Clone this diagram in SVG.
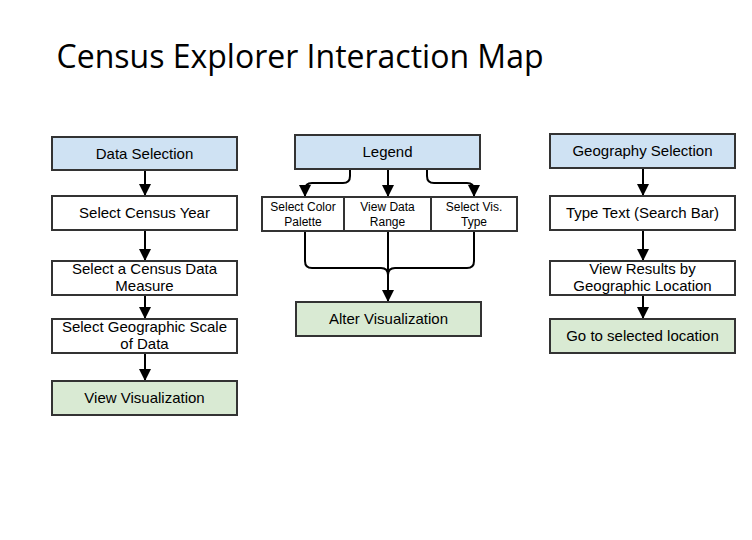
<svg xmlns="http://www.w3.org/2000/svg" width="752" height="540" viewBox="0 0 752 540">
<defs>
<style>
.box{stroke:#333;stroke-width:2}
.blue{fill:#cfe2f3}
.green{fill:#d9ead3}
.white{fill:#fff}
.t{font-family:"Liberation Sans",Arial,sans-serif;font-size:15px;fill:#000;text-anchor:middle}
.s{font-family:"Liberation Sans",Arial,sans-serif;font-size:12px;fill:#000;text-anchor:middle}
.c{fill:none;stroke:#000;stroke-width:2}
</style>
<marker id="ah" markerWidth="12" markerHeight="12" viewBox="0 0 10 10" refX="10" refY="5" orient="auto" markerUnits="userSpaceOnUse">
<path d="M0,0 L10,5 L0,10 Z" fill="#000"/>
</marker>
</defs>
<rect width="752" height="540" fill="#fff"/>
<text x="300" y="68" font-family="'Open Sans','Noto Sans',sans-serif" font-size="32" text-anchor="middle" fill="#000">Census Explorer Interaction Map</text>

<g id="connectors">
<path class="c" d="M145,170 V196" marker-end="url(#ah)"/>
<path class="c" d="M145,230 V261" marker-end="url(#ah)"/>
<path class="c" d="M145,295 V319" marker-end="url(#ah)"/>
<path class="c" d="M145,353 V381" marker-end="url(#ah)"/>
<path class="c" d="M350,169 V176 Q350,183 343,183 H312 Q305,183 305,190 V197" marker-end="url(#ah)"/>
<path class="c" d="M388,169 V197" marker-end="url(#ah)"/>
<path class="c" d="M427,169 V176 Q427,183 434,183 H467 Q474,183 474,190 V197" marker-end="url(#ah)"/>
<path class="c" d="M305,231 V261 Q305,268 312,268 H381 Q388,268 388,275"/>
<path class="c" d="M474,231 V261 Q474,268 467,268 H395 Q388,268 388,275"/>
<path class="c" d="M388,231 V302" stroke-width="2.5" marker-end="url(#ah)"/>
<path class="c" d="M643,168 V196" marker-end="url(#ah)"/>
<path class="c" d="M643,230 V261" marker-end="url(#ah)"/>
<path class="c" d="M643,295 V319" marker-end="url(#ah)"/>
</g>

<g id="data-selection"><rect class="box blue" x="52" y="137" width="185" height="33"/><text class="t" x="144.5" y="159">Data Selection</text></g>
<g id="census-year"><rect class="box white" x="52" y="196" width="185" height="34"/><text class="t" x="144.5" y="218">Select Census Year</text></g>
<g id="data-measure"><rect class="box white" x="52" y="261" width="185" height="34"/><text class="t" x="144.5" y="274">Select a Census Data</text><text class="t" x="144.5" y="291">Measure</text></g>
<g id="geo-scale"><rect class="box white" x="52" y="319" width="185" height="34"/><text class="t" x="144.5" y="332">Select Geographic Scale</text><text class="t" x="144.5" y="349">of Data</text></g>
<g id="view-vis"><rect class="box green" x="52" y="381" width="185" height="34"/><text class="t" x="144.5" y="403">View Visualization</text></g>

<g id="legend"><rect class="box blue" x="295" y="135" width="185" height="34"/><text class="t" x="387.5" y="157">Legend</text></g>
<g id="color-palette"><rect class="box white" x="262" y="197" width="82" height="34"/><text class="s" x="303" y="211">Select Color</text><text class="s" x="303" y="226">Palette</text></g>
<g id="data-range"><rect class="box white" x="344" y="197" width="87" height="34"/><text class="s" x="387.5" y="211">View Data</text><text class="s" x="387.5" y="226">Range</text></g>
<g id="vis-type"><rect class="box white" x="431" y="197" width="86" height="34"/><text class="s" x="474" y="211">Select Vis.</text><text class="s" x="474" y="226">Type</text></g>
<g id="alter-vis"><rect class="box green" x="296" y="302" width="185" height="34"/><text class="t" x="388.5" y="324">Alter Visualization</text></g>

<g id="geo-selection"><rect class="box blue" x="550" y="134" width="185" height="34"/><text class="t" x="642.5" y="156">Geography Selection</text></g>
<g id="type-text"><rect class="box white" x="550" y="196" width="185" height="34"/><text class="t" x="642.5" y="218">Type Text (Search Bar)</text></g>
<g id="view-results"><rect class="box white" x="550" y="261" width="185" height="34"/><text class="t" x="642.5" y="274">View Results by</text><text class="t" x="642.5" y="291">Geographic Location</text></g>
<g id="go-location"><rect class="box green" x="550" y="319" width="185" height="34"/><text class="t" x="642.5" y="341">Go to selected location</text></g>
</svg>
